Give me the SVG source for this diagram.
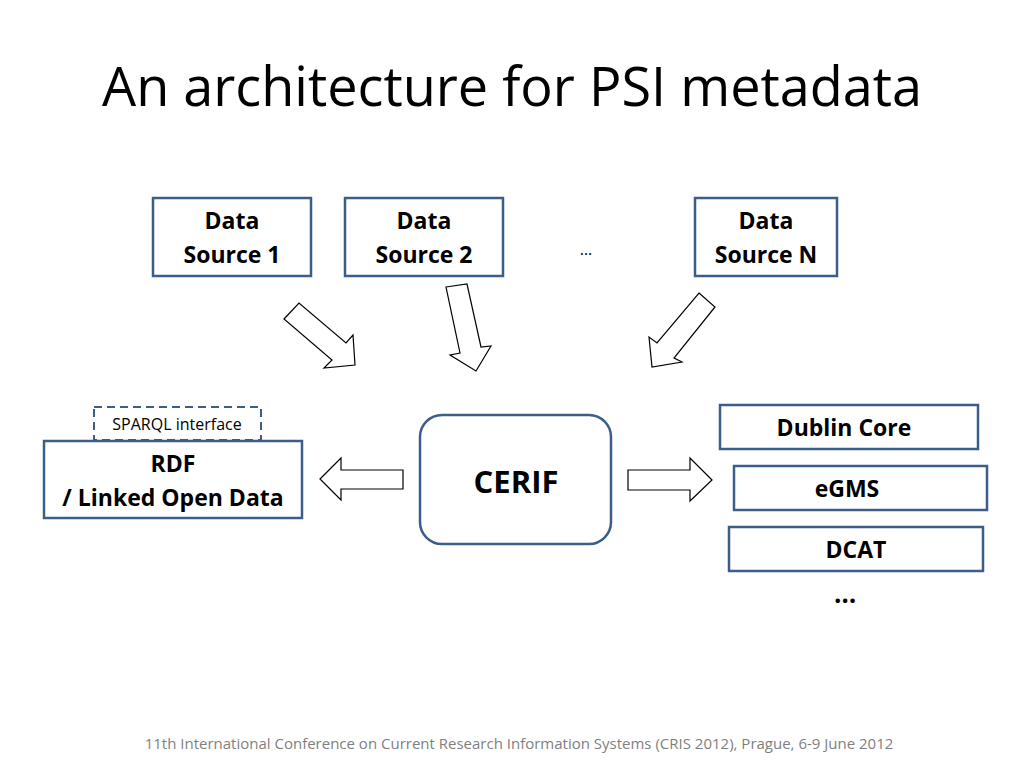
<svg xmlns="http://www.w3.org/2000/svg" width="1024" height="768" viewBox="0 0 1024 768">
<style>
text{font-family:"Open Sans","Liberation Sans",sans-serif;fill:#000}
.b{fill:#fff;stroke:#3b5d8a;stroke-width:2.5}
.l{font-size:23px;font-weight:bold;text-anchor:middle}
.a{fill:#fff;stroke:#000;stroke-width:1.2}
</style>
<rect width="1024" height="768" fill="#fff"/>
<text x="512" y="106" font-size="54" text-anchor="middle">An architecture for PSI metadata</text>
<g id="ds1"><rect class="b" x="153" y="198" width="158" height="78"/><text class="l" x="232" y="229">Data</text><text class="l" x="232" y="263">Source 1</text></g>
<g id="ds2"><rect class="b" x="345" y="198" width="158" height="78"/><text class="l" x="424" y="229">Data</text><text class="l" x="424" y="263">Source 2</text></g>
<text x="586" y="255" font-size="16" text-anchor="middle">…</text>
<g id="dsn"><rect class="b" x="695" y="198" width="142" height="78"/><text class="l" x="766" y="229">Data</text><text class="l" x="766" y="263">Source N</text></g>
<g id="sparql"><rect x="94" y="407" width="167" height="33" fill="#fff" stroke="#3b5d8a" stroke-width="2" stroke-dasharray="8,5"/><text x="177" y="430" font-size="16" text-anchor="middle">SPARQL interface</text></g>
<g id="rdf"><rect class="b" x="44" y="441" width="258" height="77"/><text class="l" x="173" y="472">RDF</text><text class="l" x="173" y="506">/ Linked Open Data</text></g>
<g id="cerif"><rect class="b" x="420" y="415" width="191" height="129" rx="22"/><text x="516" y="493" font-size="31" font-weight="bold" text-anchor="middle">CERIF</text></g>
<g id="dc"><rect class="b" x="720" y="405" width="258" height="44"/><text class="l" x="844" y="436">Dublin Core</text></g>
<g id="egms"><rect class="b" x="734" y="466" width="253" height="44"/><text class="l" x="847" y="497">eGMS</text></g>
<g id="dcat"><rect class="b" x="729" y="527" width="254" height="44"/><text class="l" x="856" y="558">DCAT</text></g>
<text x="845" y="603" font-size="26" font-weight="bold" text-anchor="middle">…</text>
<g id="connectors">
<polygon class="a" points="284,319 299,303 346,343 353,335 355,365 324,368 332,360"/>
<polygon class="a" points="446,287 467,284 481,347 491,346 476,371 450,355 460,353"/>
<polygon class="a" points="699,293 715,307 674,358 682,362 652,367 649,337 657,343"/>
<polygon class="a" points="320,479 341,458 341,470 403,470 403,489 341,489 341,500"/>
<polygon class="a" points="712,480 690,458 690,470 628,470 628,490 690,490 690,501"/>
</g>
<text x="519" y="749" font-size="15" style="fill:#7f7f7f" text-anchor="middle">11th International Conference on Current Research Information Systems (CRIS 2012), Prague, 6-9 June 2012</text>
</svg>
